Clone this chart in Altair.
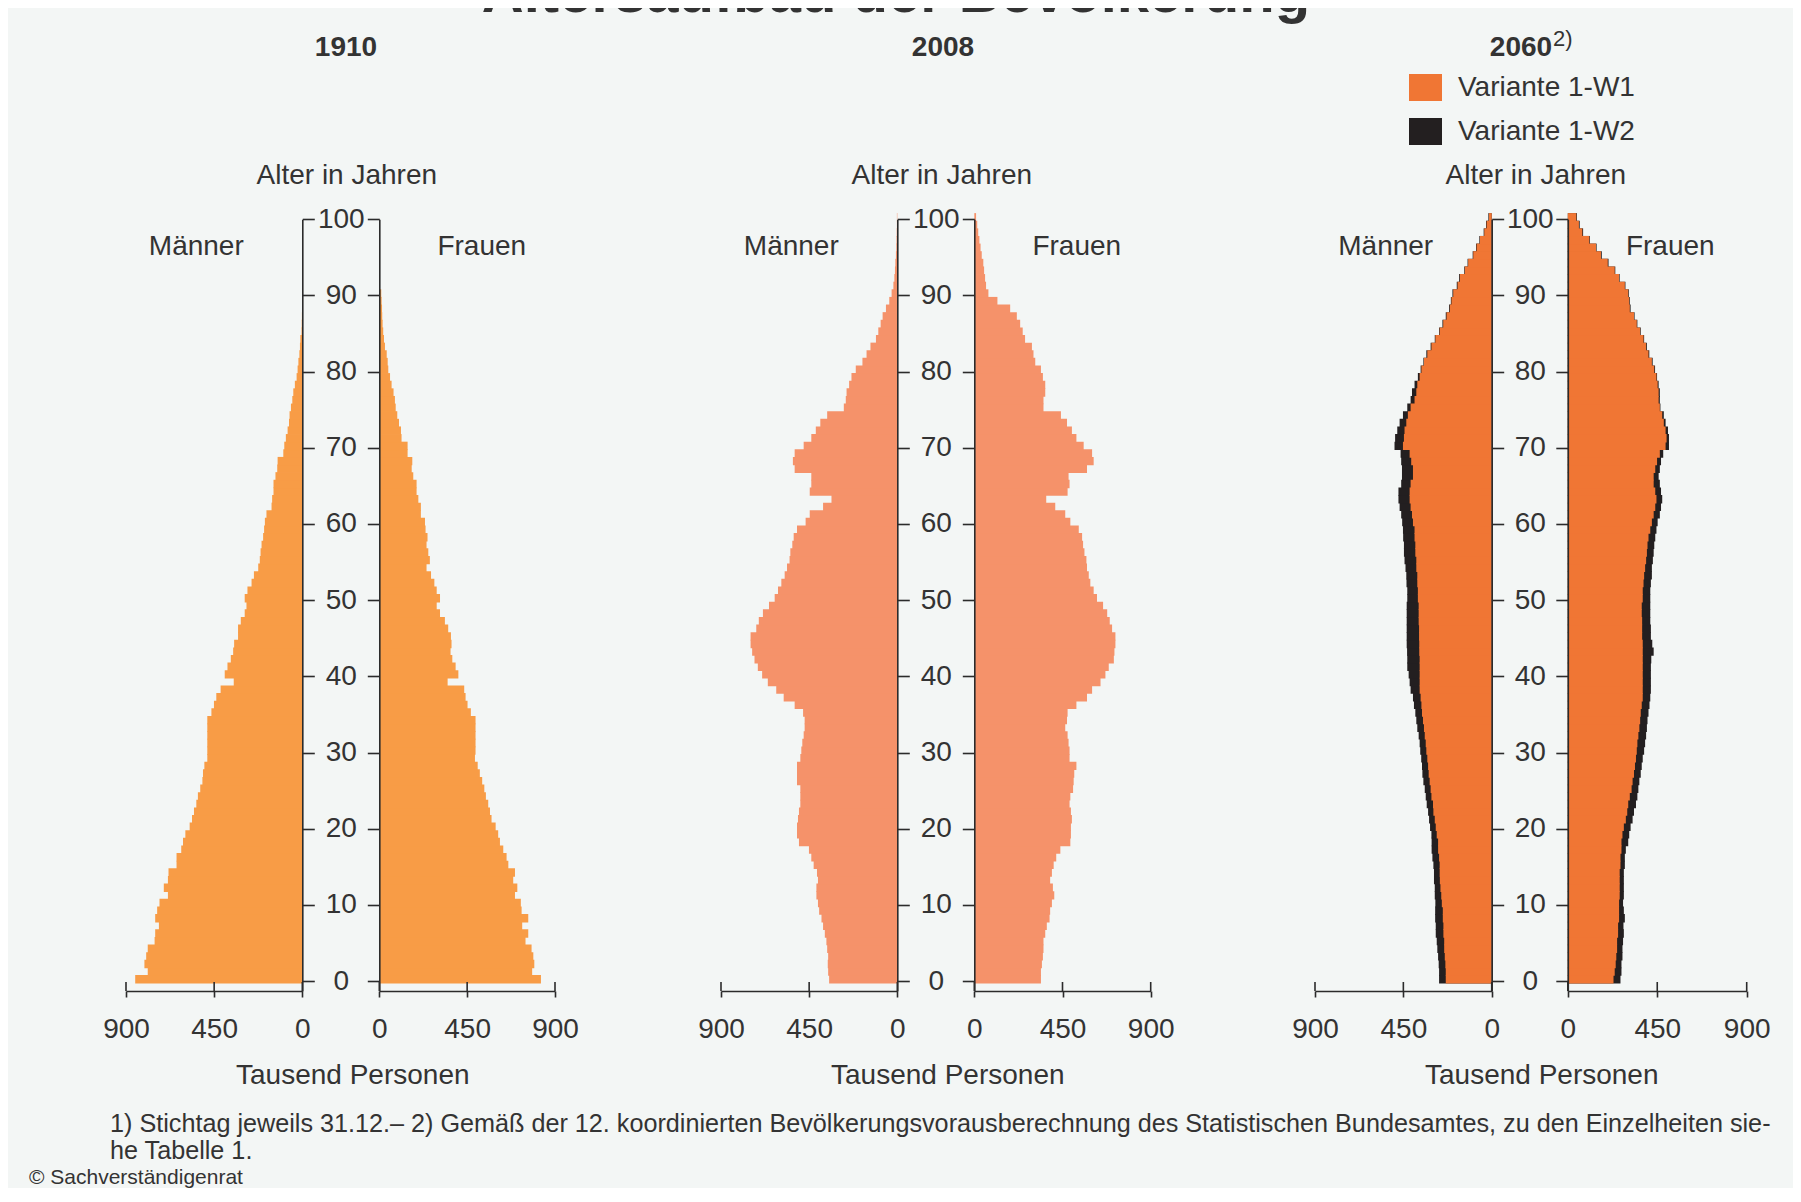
import altair as alt
import pandas as pd

# ---------------- data (thousand persons per single year of age, 0..100) ----------------
AGES = list(range(101))

M1910 = [853, 789, 806, 797, 789, 754, 751, 732, 751, 741,
         729, 686, 707, 686, 683, 642, 642, 618, 609, 597,
         575, 563, 553, 541, 533, 521, 510, 507, 500, 485,
         485, 485, 485, 485, 485, 464, 451, 439, 417, 350,
         396, 382, 365, 353, 348, 328, 328, 314, 294, 285,
         294, 280, 259, 247, 225, 217, 213, 208, 200, 195,
         191, 183, 157, 154, 147, 147, 137, 128, 126, 97,
         92, 84, 75, 68, 65, 58, 51, 46, 38, 29,
         24, 20, 15, 12, 10, 4, 3, 2, 1, 1,
         0, 0, 0, 0, 0, 0, 0, 0, 0, 0, 0]
F1910 = [828, 783, 794, 789, 780, 749, 763, 732, 763, 729,
         725, 695, 707, 686, 695, 661, 652, 635, 618, 609,
         596, 575, 567, 558, 546, 538, 527, 515, 504, 490,
         493, 493, 493, 493, 493, 469, 452, 442, 435, 350,
         405, 391, 374, 365, 370, 367, 353, 336, 311, 294,
         311, 294, 282, 265, 242, 259, 251, 242, 247, 237,
         234, 213, 213, 200, 191, 191, 174, 166, 169, 145,
         145, 114, 111, 101, 92, 84, 80, 73, 63, 55,
         46, 43, 38, 29, 24, 20, 17, 15, 14, 12,
         10, 0, 0, 0, 0, 0, 0, 0, 0, 0, 0]
M2008 = [348, 353, 355, 353, 358, 362, 370, 379, 387, 399,
         405, 413, 413, 405, 410, 427, 439, 451, 502, 512,
         512, 507, 502, 495, 495, 495, 512, 512, 512, 495,
         490, 485, 478, 473, 473, 481, 524, 580, 618, 661,
         690, 712, 729, 741, 749, 749, 720, 707, 686, 655,
         626, 609, 592, 575, 563, 550, 546, 536, 529, 512,
         468, 447, 379, 336, 447, 439, 439, 524, 533, 524,
         478, 439, 416, 393, 358, 273, 263, 259, 246, 234,
         212, 178, 157, 137, 109, 97, 85, 75, 58, 41,
         29, 20, 15, 12, 10, 7, 5, 4, 3, 2, 2]
F2008 = [340, 340, 345, 350, 353, 353, 362, 370, 384, 387,
         396, 408, 401, 387, 396, 405, 418, 439, 490, 493,
         493, 498, 493, 486, 490, 504, 507, 510, 521, 486,
         486, 481, 476, 464, 473, 476, 521, 575, 601, 644,
         669, 686, 712, 715, 720, 720, 703, 691, 678, 657,
         626, 609, 592, 584, 575, 572, 562, 555, 550, 533,
         490, 464, 413, 367, 476, 486, 481, 575, 609, 601,
         558, 521, 498, 473, 442, 353, 353, 362, 362, 350,
         340, 311, 302, 294, 259, 247, 234, 217, 183, 118,
         72, 60, 55, 50, 46, 38, 32, 26, 20, 15, 9]
M2060_W1 = [234, 234, 236, 239, 242, 242, 246, 246, 249, 249,
            254, 257, 261, 264, 265, 265, 268, 273, 273, 280,
            285, 290, 297, 299, 307, 311, 316, 321, 324, 328,
            333, 336, 341, 345, 350, 355, 358, 362, 367, 367,
            367, 367, 367, 369, 369, 370, 370, 372, 372, 372,
            376, 376, 379, 379, 384, 384, 389, 389, 393, 393,
            401, 406, 413, 418, 418, 413, 401, 401, 410, 418,
            452, 447, 444, 435, 427, 413, 393, 384, 379, 367,
            358, 345, 328, 307, 287, 265, 247, 230, 213, 205,
            196, 174, 162, 137, 120, 94, 77, 60, 38, 26, 14]
M2060_W2 = [268, 268, 270, 273, 277, 280, 285, 285, 288, 288,
            287, 290, 290, 294, 294, 297, 302, 306, 306, 307,
            314, 319, 324, 331, 336, 341, 348, 353, 355, 359,
            364, 367, 372, 379, 384, 389, 396, 401, 413, 418,
            423, 430, 430, 431, 433, 433, 433, 433, 433, 433,
            430, 430, 434, 435, 439, 444, 447, 447, 451, 452,
            456, 461, 469, 475, 475, 461, 457, 457, 461, 464,
            495, 492, 481, 469, 452, 430, 413, 406, 393, 376,
            362, 348, 333, 311, 290, 268, 251, 234, 217, 208,
            200, 178, 166, 140, 123, 97, 80, 63, 41, 29, 17]
F2060_W1 = [230, 236, 241, 244, 248, 248, 253, 253, 258, 258,
            258, 261, 261, 261, 261, 265, 265, 270, 270, 275,
            282, 292, 299, 304, 312, 321, 326, 333, 338, 343,
            347, 350, 355, 360, 364, 367, 372, 377, 377, 377,
            377, 377, 377, 377, 377, 374, 374, 374, 372, 372,
            377, 377, 381, 384, 389, 394, 398, 401, 406, 415,
            423, 432, 440, 446, 440, 432, 432, 440, 449, 463,
            492, 497, 492, 483, 475, 463, 457, 457, 452, 446,
            435, 423, 406, 394, 381, 364, 347, 333, 312, 309,
            304, 287, 258, 236, 201, 167, 142, 108, 73, 56, 43]
F2060_W2 = [265, 270, 270, 275, 275, 278, 282, 280, 287, 282,
            278, 282, 282, 282, 282, 287, 287, 292, 304, 309,
            316, 326, 333, 343, 350, 355, 360, 367, 372, 377,
            384, 389, 394, 398, 401, 406, 411, 415, 418, 418,
            418, 418, 420, 432, 425, 418, 418, 415, 415, 415,
            415, 415, 418, 423, 423, 428, 432, 435, 440, 446,
            452, 463, 469, 475, 469, 463, 457, 463, 469, 480,
            509, 509, 504, 492, 483, 466, 463, 463, 457, 449,
            439, 427, 410, 398, 384, 367, 350, 336, 316, 312,
            307, 290, 261, 239, 205, 171, 145, 111, 77, 60, 46]

X_TICKS = [0, 450, 900]
Y_TICKS = list(range(0, 101, 10))
VARIANTS = ["Variante 1-W1", "Variante 1-W2"]
YEARS = ["1910", "2008", "2060"]

# ---------------- style / layout ----------------
FONT = "Liberation Sans"
TXT = "#333333"
AX = "#2b2b2b"
BG = "#f3f6f5"
C1910 = "#f89c46"
C2008 = "#f5926a"
C_W1 = "#f07634"
C_W2 = "#231f20"

W, H = 1785, 1180
Y_DOMAIN = [-1.3, 100]
Y_RANGE = [983, 211.2]
X_AXIS_Y = 983

# (male zero, male 900, female zero, female 900) in svg pixels
PANELS = [(294.3, 118.0, 371.3, 547.0),
          (889.3, 713.0, 966.3, 1142.7),
          (1483.7, 1307.0, 1559.8, 1738.7)]


def frame(values, variant=None):
    df = pd.DataFrame({"age": AGES, "v": values})
    if variant is not None:
        df["variant"] = variant
    return df


def half(df, side, x0, x900, color, label_pad):
    xscale = alt.Scale(domain=[0, 900], range=[x0, x900])
    yscale = alt.Scale(domain=Y_DOMAIN, range=Y_RANGE)
    common = dict(domainColor=AX, tickColor=AX, domainWidth=1.6, tickWidth=1.6,
                  grid=False, title=None, zindex=1, labelFont=FONT, labelFontSize=28,
                  labelColor=TXT, labelFlush=False, labelOverlap=False)
    if side == "m":
        yaxis = alt.Axis(orient="right", offset=x0 - W, values=Y_TICKS, tickSize=12,
                         labelAlign="center", labelBaseline="middle",
                         labelPadding=label_pad, **common)
    else:
        yaxis = alt.Axis(orient="left", offset=-x0, values=Y_TICKS, tickSize=12,
                         labels=False, **common)
    xaxis = alt.Axis(orient="bottom", offset=X_AXIS_Y - H, values=X_TICKS, tickSize=6,
                     labelPadding=18, format="d", **common)
    if color is None:
        col = alt.Color("variant:N",
                        scale=alt.Scale(domain=VARIANTS, range=[C_W1, C_W2]),
                        legend=alt.Legend(orient="none", legendX=1401, legendY=63,
                                          title=None, direction="vertical",
                                          symbolType="M-1,-0.82H1V0.82H-1Z",
                                          symbolSize=1089, symbolStrokeWidth=0,
                                          labelFont=FONT, labelFontSize=28,
                                          labelColor=TXT, labelOffset=16,
                                          labelLimit=400, rowPadding=13, padding=0))
    else:
        col = alt.value(color)
    bars = alt.Chart(df).transform_calculate(
        y0="datum.age - 0.3", y1="datum.age + 0.8"
    ).mark_rect().encode(
        x=alt.X("v:Q", scale=xscale, axis=xaxis),
        x2=alt.datum(0),
        y=alt.Y("y0:Q", scale=yscale, axis=yaxis),
        y2="y1:Q",
        color=col,
    )
    upticks = alt.Chart(pd.DataFrame({"v": X_TICKS})).mark_rule(
        color=AX, strokeWidth=1.6
    ).encode(
        x=alt.X("v:Q", scale=xscale, axis=xaxis),
        y=alt.value(X_AXIS_Y - 9),
        y2=alt.value(X_AXIS_Y),
    )
    return alt.layer(bars, upticks)


def txt(text, x, y, size=28, weight="normal", align="center"):
    return alt.Chart(pd.DataFrame({"t": [text]})).mark_text(
        font=FONT, fontSize=size, fontWeight=weight, align=align,
        baseline="alphabetic", color=TXT
    ).encode(text="t:N", x=alt.value(x), y=alt.value(y))


layers = []
series = [
    (frame(M1910), frame(F1910), C1910),
    (frame(M2008), frame(F2008), C2008),
    (pd.concat([frame(M2060_W2, VARIANTS[1]), frame(M2060_W1, VARIANTS[0])], ignore_index=True),
     pd.concat([frame(F2060_W2, VARIANTS[1]), frame(F2060_W1, VARIANTS[0])], ignore_index=True),
     None),
]
for (m0, m900, f0, f900), (mdf, fdf, colr) in zip(PANELS, series):
    gap_c = (m0 + f0) / 2
    layers.append(half(mdf, "m", m0, m900, colr, gap_c - m0 - 12))
    layers.append(half(fdf, "f", f0, f900, colr, 0))
    layers.append(txt("Alter in Jahren", gap_c + 6, 175.5))
    layers.append(txt("Männer", m0 - 106, 246.5))
    layers.append(txt("Frauen", f0 + 102.5, 246.5))
    layers.append(txt("Tausend Personen", gap_c + 12, 1076))

layers.append(txt(YEARS[0], 338, 48, weight="bold"))
layers.append(txt(YEARS[1], 935, 48, weight="bold"))
layers.append(txt(YEARS[2], 1513, 48, weight="bold"))
layers.append(txt("2)", 1545, 38, size=22, align="left"))
layers.append(txt("Altersaufbau der Bevölkerung", 888, 4, size=58, weight="bold"))
layers.append(txt("1) Stichtag jeweils 31.12.– 2) Gemäß der 12. koordinierten "
                  "Bevölkerungsvorausberechnung des Statistischen Bundesamtes, "
                  "zu den Einzelheiten sie-", 102, 1124, size=25.2, align="left"))
layers.append(txt("he Tabelle 1.", 102, 1151, size=25.2, align="left"))
layers.append(txt("© Sachverständigenrat", 21, 1176, size=21, align="left"))

chart = alt.layer(*layers).resolve_scale(
    x="independent", y="independent"
).properties(
    width=W, height=H, background=BG, padding=0,
    autosize=alt.AutoSizeParams(type="none"),
).configure_view(stroke=None)

chart.save("out.html", embed_options={"renderer": "svg", "actions": False})
